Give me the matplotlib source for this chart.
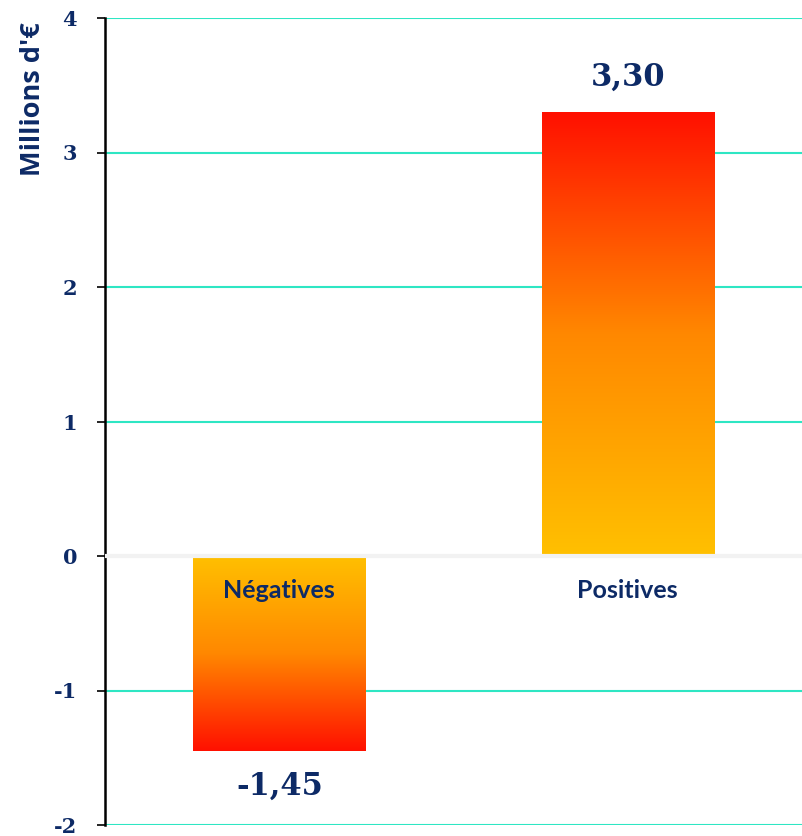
import matplotlib.pyplot as plt
import numpy as np
from matplotlib.colors import LinearSegmentedColormap

# data
categories = ["Négatives", "Positives"]
values = [-1.45, 3.30]
value_labels = ["-1,45", "3,30"]
y_ticks = [-2, -1, 0, 1, 2, 3, 4]

NAVY = "#0d2a66"
GRID = "#2ee6c3"

fig = plt.figure(figsize=(8.02, 8.36), dpi=100)
ax = fig.add_axes([105 / 802, 11 / 836, 697 / 802, 807 / 836])

ax.set_xlim(-0.5, 1.5)
ax.set_ylim(-2, 4)

# gridlines
for t in y_ticks:
    if t == 0:
        continue
    ax.axhline(t, color=GRID, linewidth=1.5, zorder=1)

# gradient bars: yellow at zero, red at the end
cmap = LinearSegmentedColormap.from_list("yr", ["#ffc000", "#ff8800", "#ff1000"])
width = 0.494
grad = np.linspace(0, 1, 256).reshape(-1, 1)
for i, v in enumerate(values):
    img = grad if v > 0 else grad[::-1]
    ax.imshow(img, cmap=cmap, aspect="auto", origin="lower",
              extent=(i - width / 2, i + width / 2, min(0, v), max(0, v)),
              zorder=2)

# zero line
ax.axhline(0, color="#f2f2f2", linewidth=3, zorder=3)

# labels
for i, (v, lab) in enumerate(zip(values, value_labels)):
    y = v + 0.26 if v > 0 else v - 0.26
    ax.text(i, y, lab, ha="center", va="center", fontsize=22,
            fontweight="bold", color=NAVY, family="DejaVu Serif", zorder=4)
    ax.text(i, -0.253, categories[i], ha="center", va="center", fontsize=18,
            fontweight="bold", color=NAVY, family="Lato", zorder=4)

ax.set_xticks([])
ax.set_yticks(y_ticks)
ax.set_yticklabels([str(t) for t in y_ticks], fontsize=15, fontweight="bold",
                   color=NAVY, family="DejaVu Serif")
ax.tick_params(axis="y", length=6, width=1.2, color="black", pad=14)

for s in ["top", "right", "bottom"]:
    ax.spines[s].set_visible(False)
ax.spines["left"].set_linewidth(1.8)
ax.spines["left"].set_zorder(2.5)

fig.text(33 / 802, 1 - 99 / 836, "Millions d'€", rotation=90, ha="center",
         va="center", fontsize=19.5, fontweight="bold", color=NAVY, family="Open Sans")

fig.savefig("out.png", dpi=100)
